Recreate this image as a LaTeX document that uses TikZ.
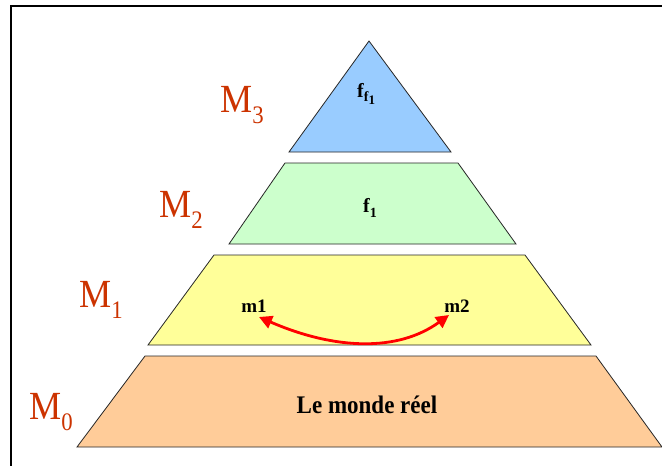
\documentclass[tikz,border=0pt]{standalone}
\usepackage{fontspec}
\setmainfont{Liberation Serif}
\usetikzlibrary{arrows.meta}
\definecolor{lblue}{HTML}{99CCFF}
\definecolor{lgreen}{HTML}{CCFFCC}
\definecolor{lyellow}{HTML}{FFFF99}
\definecolor{lorange}{HTML}{FFCC99}
\definecolor{mred}{HTML}{CC3300}
\newcommand\Mlab[1]{\scalebox{0.95}[1.05]{M}\raisebox{-11pt}{\fontsize{24}{24}\selectfont\scalebox{0.95}[1.05]{#1}}}
\tikzset{
  layer/.style={draw=black!85, line width=0.8pt, line join=miter},
  mlabel/.style={anchor=base west, inner sep=0pt, text=mred, font=\fontsize{38}{38}\selectfont},
  intext/.style={anchor=base, inner sep=0pt, font=\bfseries\fontsize{19}{19}\selectfont},
  arr/.style={red, line width=2.8pt, {Triangle[length=13pt,width=13pt]}-{Triangle[length=13pt,width=13pt]}}
}
\begin{document}
\begin{tikzpicture}[x=1pt,y=-1pt]
\clip (0,0) rectangle (662,466);
\fill[white] (0,0) rectangle (662,466);
% frame
\draw[line width=2pt] (11,480) -- (11,6) -- (680,6);
% layers
\path[layer, fill=lblue] (369,41) -- (451,152) -- (289,152) -- cycle;
\path[layer, fill=lgreen] (285,163) -- (458,163) -- (516,244) -- (229,244) -- cycle;
\path[layer, fill=lyellow] (214,255) -- (525,255) -- (591,345) -- (148,345) -- cycle;
\path[layer, fill=lorange] (145,356) -- (596,356) -- (662,447) -- (77,447) -- cycle;
% level labels
\node[mlabel] (L3) at (220,112) {\Mlab{3}};
\node[mlabel] (L2) at (159,217) {\Mlab{2}};
\node[mlabel] (L1) at (79,307) {\Mlab{1}};
\node[mlabel] (L0) at (29,419) {\Mlab{0}};
% texts
\node[intext, anchor=base west, font=\bfseries\fontsize{20}{20}\selectfont] (ff1) at (357,97) {f\raisebox{-4pt}{\fontsize{14}{14}\selectfont f\raisebox{-3pt}{\fontsize{13}{13}\selectfont 1}}};
\node[intext, anchor=base west, font=\bfseries\fontsize{20}{20}\selectfont] (f1) at (363,212) {f\raisebox{-5pt}{\fontsize{14}{14}\selectfont 1}};
\node[intext] (m1) at (254,312) {m1};
\node[intext] (m2) at (457,312) {m2};
\node[intext, font=\bfseries\fontsize{23}{23}\selectfont] (real) at (367,413) {\scalebox{1}[1.1]{Le monde réel}};
% arrow
\draw[arr] ([xshift=5pt,yshift=-5pt]m1.base) .. controls (335,350) and (398,352) .. ([xshift=-8pt,yshift=-3pt]m2.base);
\end{tikzpicture}
\end{document}
